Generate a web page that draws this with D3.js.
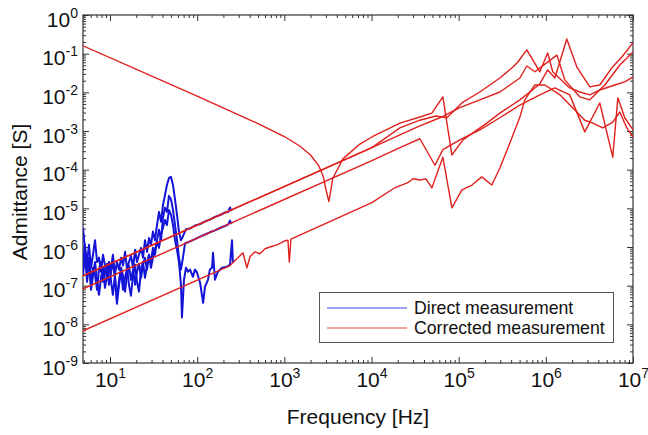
<!DOCTYPE html>
<html><head><meta charset="utf-8">
<script src="https://cdn.jsdelivr.net/npm/d3@7"></script>
<style>
body{margin:0;background:#fff}
svg{display:block}
text{font-family:"Liberation Sans",Arial,Helvetica,sans-serif;fill:#111}
</style>
</head><body>
<svg id="c" width="648" height="435"></svg>
<script>
// ---- axis ticks ----
const xTickValues = [10, 100, 1e3, 1e4, 1e5, 1e6, 1e7];
const xTickExp = ["1", "2", "3", "4", "5", "6", "7"];
const yTickValues = [1e-9, 1e-8, 1e-7, 1e-6, 1e-5, 1e-4, 1e-3, 1e-2, 1e-1, 1];
const yTickExp = ["-9", "-8", "-7", "-6", "-5", "-4", "-3", "-2", "-1", "0"];
const legendLabels = ["Direct measurement", "Corrected measurement"];

// ---- Direct measurement (blue) : [frequency Hz, admittance S] ----
const direct1 = [[4.9,3.1e-6],[5.17,8.5e-7],[5.45,4.1e-7],[5.74,1.14e-6],[6.06,2.9e-7],[6.38,6.3e-7],[6.73,1.5e-6],[7.1,4.1e-7],[7.48,5.3e-7],[7.88,2.3e-7],[8.31,6.3e-7],[8.76,3.3e-7],[9.24,1.42e-7],[9.74,4.1e-7],[10.3,2.9e-7],[10.8,6.3e-7],[11.4,1.9e-7],[12.0,4.1e-7],[12.7,2.6e-7],[13.4,5.3e-7],[14.1,3.3e-7],[14.9,7.5e-7],[15.7,2.6e-7],[16.5,4.1e-7],[17.4,5.9e-7],[18.4,2.9e-7],[19.4,8.5e-7],[20.4,4.1e-7],[21.5,6.3e-7],[22.7,9.5e-7],[23.9,5.3e-7],[25.2,1.5e-6],[26.6,7.5e-7],[28.0,1.7e-6],[29.5,1.14e-6],[31.1,2.5e-6],[32.8,1.5e-6],[34.6,3.7e-6],[36.5,8.1e-6],[38.5,4.5e-6],[40.5,1.2e-5],[42.7,2.2e-5],[45.0,4.0e-5],[47.5,6.1e-5],[50.1,6.5e-5],[52.8,4.0e-5],[55.7,1.7e-5],[58.7,6.8e-6],[61.8,2.5e-6],[65.2,1.5e-6],[68.7,1.9e-6],[74.4,2.9e-6],[82.7,3.0e-6],[94.4,3.6e-6],[108,3.9e-6],[123,4.6e-6],[140,5.1e-6],[160,6.0e-6],[183,6.7e-6],[208,7.8e-6],[226,8.0e-6],[238,1.05e-5],[244,8.9e-6],[251,9.3e-6]];
const direct2 = [[4.9,4.1e-7],[5.17,1.14e-6],[5.45,2.6e-7],[5.74,5.3e-7],[6.06,1.42e-7],[6.38,2.9e-7],[6.73,1.9e-7],[7.1,7.8e-8],[7.48,2.6e-7],[7.88,4.1e-7],[8.31,1.26e-7],[8.76,2.6e-7],[9.24,3.7e-7],[9.74,1.05e-7],[10.3,2.3e-7],[10.8,4.1e-7],[11.4,1.6e-7],[12.0,4.3e-8],[12.7,1.42e-7],[13.4,2.9e-7],[14.1,1.8e-7],[14.9,7.0e-8],[15.7,2.0e-7],[16.5,3.3e-7],[17.4,1.42e-7],[18.4,2.6e-7],[19.4,1.05e-7],[20.4,2.3e-7],[21.5,3.7e-7],[22.7,1.6e-7],[23.9,3.5e-7],[25.2,5.3e-7],[26.6,2.6e-7],[28.0,6.3e-7],[29.5,4.1e-7],[31.1,9.5e-7],[32.8,6.3e-7],[34.6,1.5e-6],[36.5,2.8e-6],[38.5,1.5e-6],[40.5,5.7e-6],[42.7,1.03e-5],[45.0,8.1e-6],[47.5,2.1e-5],[50.1,1.7e-5],[52.8,9.1e-6],[55.7,3.7e-6],[58.7,1.5e-6],[61.8,5.3e-7],[65.2,2.6e-7],[68.7,5.3e-7],[72.5,1.23e-6],[78.4,1.33e-6],[82.7,1.4e-6],[94.4,1.6e-6],[108,1.85e-6],[123,2.1e-6],[140,2.4e-6],[160,2.7e-6],[183,3.1e-6],[208,3.5e-6],[226,3.8e-6],[238,4.8e-6],[244,4.1e-6],[251,4.3e-6]];
const direct3 = [[4.9,1.9e-7],[5.17,6.3e-7],[5.45,1.26e-7],[5.74,3.5e-7],[6.06,7.8e-8],[6.38,1.8e-7],[6.73,4.1e-7],[7.1,1.42e-7],[7.48,5.8e-8],[7.88,1.6e-7],[8.31,2.9e-7],[8.76,8.8e-8],[9.24,1.9e-7],[9.74,4.1e-7],[10.3,1.26e-7],[10.8,5.8e-8],[11.4,1.9e-7],[12.0,3.4e-8],[12.7,1.05e-7],[13.4,2.3e-7],[14.1,7.8e-8],[14.9,1.6e-7],[15.7,2.9e-7],[16.5,1.05e-7],[17.4,5.5e-8],[18.4,1.9e-7],[19.4,3.5e-7],[20.4,1.26e-7],[21.5,7.0e-8],[22.7,2.6e-7],[23.9,4.1e-7],[25.2,1.6e-7],[26.6,3.5e-7],[28.0,6.3e-7],[29.5,2.9e-7],[31.1,5.3e-7],[32.8,8.5e-7],[34.6,1.36e-6],[36.5,9.5e-7],[38.5,2.1e-6],[40.5,3.1e-6],[42.7,5.0e-6],[45.0,3.7e-6],[47.5,9.1e-6],[50.1,6.8e-6],[52.8,3.7e-6],[55.7,1.5e-6],[58.7,8.5e-7],[61.8,4.1e-7],[65.2,1.05e-7],[66.9,1.5e-8],[70.6,1.42e-7],[74.4,2.9e-7],[78.4,2.3e-7],[82.7,2.6e-7],[89.5,1.7e-7],[94.4,2.6e-7],[99.5,2.2e-7],[108,1.19e-7],[117,3.6e-8],[123,9.4e-8],[133,1.42e-7],[140,2.6e-7],[148,2.9e-7],[152,7.1e-7],[160,1.42e-7],[173,2.3e-7],[193,2.9e-7],[220,3.1e-7],[238,3.5e-7],[251,1.5e-6],[257,3.9e-7]];

// ---- Corrected measurement (red) : [frequency Hz, admittance S] ----
const corrected1 = [[4.9,0.16],[100,8e-3],[500,1.55e-3],[1000,7.2e-4],[1500,4.1e-4],[2000,2.4e-4],[2500,1.23e-4],[2800,6.6e-5],[3000,3.1e-5],[3240,1.5e-5],[3600,6e-5],[4700,1.9e-4],[7360,4.6e-4],[1.01e4,7e-4],[2.12e4,1.6e-3],[3.59e4,2.3e-3],[4.93e4,2.9e-3],[6.59e4,7.6e-3],[8.36e4,2.4e-4],[1.12e5,5.9e-4],[2.1e5,1.6e-3],[2.97e5,2.9e-3],[5.04e5,6.4e-3],[8.53e5,1.65e-2],[1.05e6,3.8e-2],[1.27e6,2.35e-2],[1.74e6,0.24],[2.27e6,0.045],[3.2e6,0.0138],[4.16e6,0.0155],[5.71e6,0.043],[7.44e6,0.082],[1e7,0.19]];
const corrected2 = [[4.9,1.8e-7],[1.01e4,3.7e-4],[2.12e4,7.9e-4],[3.59e4,1.35e-3],[6.09e4,2.2e-3],[1.03e5,4.0e-3],[1.75e5,6.4e-3],[2.97e5,1.02e-2],[3.87e5,1.55e-2],[5.04e5,2.35e-2],[6.05e5,4.8e-2],[7.48e5,3.4e-2],[1.34e6,9.2e-2],[1.65e6,2.1e-2],[2.46e6,7.6e-3],[3.2e6,6.4e-3],[4.75e6,1.55e-2],[7.06e6,5.1e-2],[1e7,0.11]];
const corrected3 = [[4.9,1.8e-7],[1.01e4,3.7e-4],[2.12e4,1.2e-3],[3.59e4,1.9e-3],[5.48e4,2.45e-3],[7.33e4,2.2e-3],[1.12e5,5.6e-3],[1.75e5,1.02e-2],[2.97e5,2.35e-2],[4.19e5,4.5e-2],[4.78e5,6.1e-2],[6.05e5,0.125],[7.09e5,6.9e-2],[8.53e5,3.4e-2],[1.05e6,0.104],[1.2e6,3.4e-2],[1.88e6,1.3e-2],[2.46e6,1.02e-2],[3.2e6,8.6e-3],[4.16e6,1.15e-2],[6.18e6,1.55e-2],[8.05e6,1.86e-2],[1e7,2.5e-2]];
const corrected4 = [[4.9,8.3e-8],[1.01e4,1.72e-4],[2.12e4,3.7e-4],[3.59e4,6.3e-4],[5.34e4,1.3e-4],[6.59e4,3.3e-4],[1.03e5,5.9e-4],[1.75e5,1.07e-3],[2.97e5,2.2e-3],[5.04e5,4.7e-3],[8.53e5,8.6e-3],[1.27e6,1.3e-2],[1.88e6,8.6e-3],[2.8e6,9.5e-4],[4.16e6,5.3e-3],[5.86e6,2.1e-4],[6.7e6,7.2e-3],[8.05e6,2.2e-3],[1e7,1.07e-3]];
const corrected5 = [[4.9,6.8e-9],[238,3.3e-7],[335,7.1e-7],[372,2.9e-7],[404,5.6e-7],[460,7.5e-7],[525,6.7e-7],[600,9.0e-7],[684,1.0e-6],[822,1.14e-6],[1016,1.45e-6],[1100,1.5e-6],[1140,4.1e-7],[1190,1.6e-6],[1.01e4,1.4e-5],[1.85e4,3.4e-5],[2.61e4,4.6e-5],[2.99e4,5.8e-5],[3.59e4,5.4e-5],[4.21e4,5.8e-5],[4.93e4,3.4e-5],[6.59e4,2.1e-4],[8.36e4,1.03e-5],[1.09e5,3.0e-5],[1.42e5,4.0e-5],[1.84e5,6.5e-5],[2.4e5,4.0e-5],[2.97e5,1.1e-4],[3.87e5,4.9e-4],[5.04e5,2.3e-3],[5.74e5,6.4e-3],[7.48e5,1.55e-2],[9.74e5,1.55e-2],[1.45e6,8.6e-3],[2.15e6,3.5e-3],[2.8e6,1.9e-3],[3.46e6,1.6e-3],[4.51e6,1.2e-3],[5.86e6,1.7e-3],[7.06e6,3.1e-3],[8.49e6,1.2e-3],[1e7,7e-4]];

const directSeries = [direct1, direct2, direct3];
const correctedSeries = [corrected1, corrected2, corrected3, corrected4, corrected5];

// ---- layout ----
const m = {left: 83, right: 633, top: 15, bottom: 363};
const BLUE = "#1414d8", RED = "#e0201c";

const svg = d3.select("#c");
const x = d3.scaleLog().domain([4.9, 1e7]).range([m.left, m.right]);
const y = d3.scaleLog().domain([1e-9, 1]).range([m.bottom, m.top]);

svg.append("defs").append("clipPath").attr("id", "clip")
  .append("rect").attr("x", m.left).attr("y", m.top)
  .attr("width", m.right - m.left).attr("height", m.bottom - m.top);

// minor ticks
const xMinor = [], yMinor = [];
for (let e = 0; e <= 6; e++) for (let k = 2; k <= 9; k++) { const v = k * Math.pow(10, e); if (v >= 4.9 && v <= 1e7) xMinor.push(v); }
for (let e = -9; e <= -1; e++) for (let k = 2; k <= 9; k++) yMinor.push(k * Math.pow(10, e));

function styleAxis(g) {
  g.select(".domain").remove();
  g.selectAll(".tick line").attr("stroke", "#333").attr("stroke-width", 1);
}
const noLabel = () => "";
svg.append("g").attr("transform", `translate(0,${m.bottom})`)
  .call(d3.axisBottom(x).tickValues(xMinor).tickSizeInner(-3).tickSizeOuter(0).tickFormat(noLabel)).call(styleAxis);
const xAxisG = svg.append("g").attr("transform", `translate(0,${m.bottom})`)
  .call(d3.axisBottom(x).tickValues(xTickValues).tickSizeInner(-6).tickSizeOuter(0).tickFormat(noLabel)).call(styleAxis);
svg.append("g").attr("transform", `translate(0,${m.top})`)
  .call(d3.axisTop(x).tickValues(xMinor).tickSizeInner(-3).tickSizeOuter(0).tickFormat(noLabel)).call(styleAxis);
svg.append("g").attr("transform", `translate(0,${m.top})`)
  .call(d3.axisTop(x).tickValues(xTickValues).tickSizeInner(-6).tickSizeOuter(0).tickFormat(noLabel)).call(styleAxis);
svg.append("g").attr("transform", `translate(${m.left},0)`)
  .call(d3.axisLeft(y).tickValues(yMinor).tickSizeInner(-3).tickSizeOuter(0).tickFormat(noLabel)).call(styleAxis);
const yAxisG = svg.append("g").attr("transform", `translate(${m.left},0)`)
  .call(d3.axisLeft(y).tickValues(yTickValues).tickSizeInner(-6).tickSizeOuter(0).tickFormat(noLabel)).call(styleAxis);
svg.append("g").attr("transform", `translate(${m.right},0)`)
  .call(d3.axisRight(y).tickValues(yMinor).tickSizeInner(-3).tickSizeOuter(0).tickFormat(noLabel)).call(styleAxis);
svg.append("g").attr("transform", `translate(${m.right},0)`)
  .call(d3.axisRight(y).tickValues(yTickValues).tickSizeInner(-6).tickSizeOuter(0).tickFormat(noLabel)).call(styleAxis);

// tick labels with superscript exponents
xAxisG.selectAll(".tick").each(function(d, i) {
  const t = d3.select(this).select("text")
    .attr("y", 24).attr("dy", 0).attr("text-anchor", "middle")
    .style("font-size", "21px").attr("fill", "#111");
  t.text(null);
  t.append("tspan").text("10");
  t.append("tspan").attr("dy", -9).style("font-size", "14px").text(xTickExp[i]);
});
yAxisG.selectAll(".tick").each(function(d, i) {
  const t = d3.select(this).select("text")
    .attr("x", -5).attr("y", 11).attr("dy", 0).attr("text-anchor", "end")
    .style("font-size", "21px").attr("fill", "#111");
  t.text(null);
  t.append("tspan").text("10");
  t.append("tspan").attr("dy", -9).style("font-size", "14px").text(yTickExp[i]);
});

// frame
svg.append("rect").attr("x", m.left).attr("y", m.top)
  .attr("width", m.right - m.left).attr("height", m.bottom - m.top)
  .attr("fill", "none").attr("stroke", "#333").attr("stroke-width", 1.2);

// data lines
const line = d3.line().x(d => x(d[0])).y(d => y(d[1]));
const plot = svg.append("g").attr("clip-path", "url(#clip)");
plot.selectAll("path.direct").data(directSeries).join("path")
  .attr("class", "direct").attr("d", line)
  .attr("fill", "none").attr("stroke", BLUE).attr("stroke-width", 2).attr("stroke-linejoin", "round");
plot.selectAll("path.corr").data(correctedSeries).join("path")
  .attr("class", "corr").attr("d", line)
  .attr("fill", "none").attr("stroke", RED).attr("stroke-width", 1.4).attr("stroke-linejoin", "round");

// axis titles
svg.append("text").attr("x", 358).attr("y", 424).attr("text-anchor", "middle")
  .style("font-size", "21px").text("Frequency [Hz]");
svg.append("text").attr("transform", "translate(27,192) rotate(-90)").attr("text-anchor", "middle")
  .style("font-size", "21px").text("Admittance [S]");

// legend
const lg = svg.append("g");
lg.append("rect").attr("x", 319.5).attr("y", 292.5).attr("width", 294).attr("height", 50)
  .attr("fill", "#fff").attr("stroke", "#555").attr("stroke-width", 1);
[BLUE, RED].forEach((c, i) => {
  const yy = 308 + i * 20;
  lg.append("line").attr("x1", 327).attr("x2", 407).attr("y1", yy).attr("y2", yy)
    .attr("stroke", c).attr("stroke-width", 1).attr("opacity", 0.8);
  lg.append("text").attr("x", 414).attr("y", 313.5 + i * 20.5)
    .style("font-size", "17.7px").text(legendLabels[i]);
});
</script>
</body></html>
